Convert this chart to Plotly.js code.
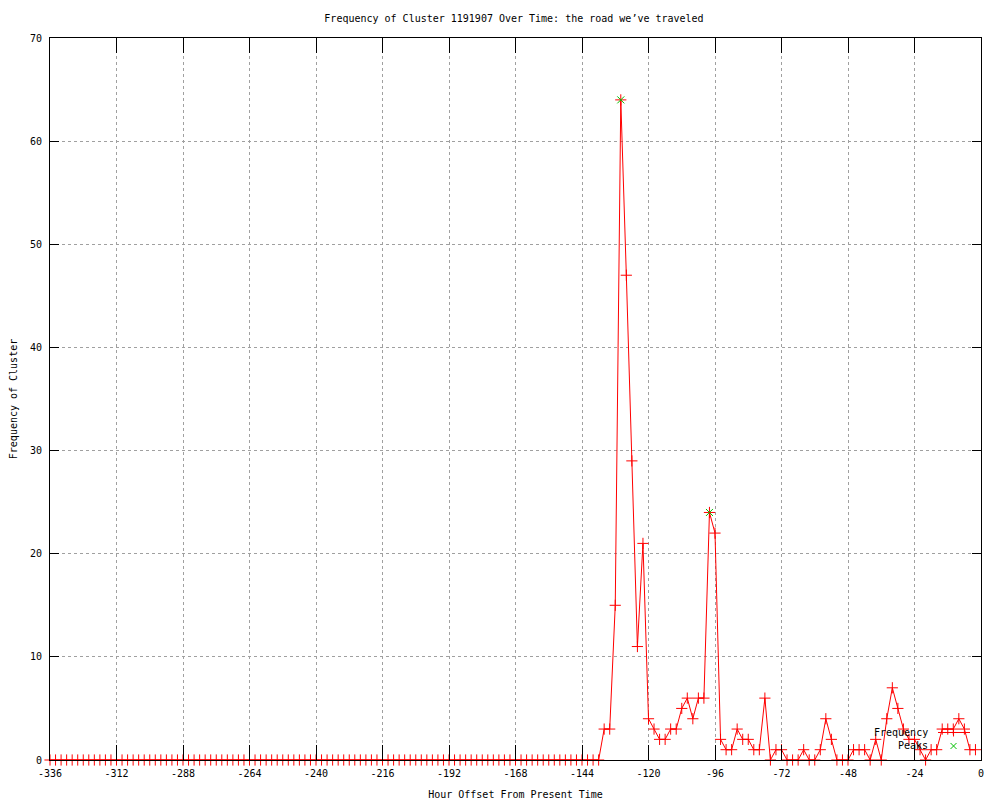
<!DOCTYPE html>
<html>
<head>
<meta charset="utf-8">
<script src="https://cdn.plot.ly/plotly-3.0.1.min.js"></script>
<style>html,body{margin:0;padding:0;background:#fff;}#chart{width:1000px;height:800px;}</style>
</head>
<body>
<div id="chart"></div>
<script>
// Hour offsets (every 2 hours)
const hours = [
-336,-334,-332,-330,-328,-326,-324,-322,-320,-318,-316,-314,-312,-310,-308,-306,-304,-302,-300,-298,
-296,-294,-292,-290,-288,-286,-284,-282,-280,-278,-276,-274,-272,-270,-268,-266,-264,-262,-260,-258,
-256,-254,-252,-250,-248,-246,-244,-242,-240,-238,-236,-234,-232,-230,-228,-226,-224,-222,-220,-218,
-216,-214,-212,-210,-208,-206,-204,-202,-200,-198,-196,-194,-192,-190,-188,-186,-184,-182,-180,-178,
-176,-174,-172,-170,-168,-166,-164,-162,-160,-158,-156,-154,-152,-150,-148,-146,-144,-142,-140,-138,
-136,-134,-132,-130,-128,-126,-124,-122,-120,-118,-116,-114,-112,-110,-108,-106,-104,-102,-100,-98,
-96,-94,-92,-90,-88,-86,-84,-82,-80,-78,-76,-74,-72,-70,-68,-66,-64,-62,-60,-58,
-56,-54,-52,-50,-48,-46,-44,-42,-40,-38,-36,-34,-32,-30,-28,-26,-24,-22,-20,-18,
-16,-14,-12,-10,-8,-6,-4,-2
];
// Frequency of cluster at each hour offset
const frequency = [
0,0,0,0,0,0,0,0,0,0,0,0,0,0,0,0,0,0,0,0,
0,0,0,0,0,0,0,0,0,0,0,0,0,0,0,0,0,0,0,0,
0,0,0,0,0,0,0,0,0,0,0,0,0,0,0,0,0,0,0,0,
0,0,0,0,0,0,0,0,0,0,0,0,0,0,0,0,0,0,0,0,
0,0,0,0,0,0,0,0,0,0,0,0,0,0,0,0,0,0,0,0,
3,3,15,64,47,29,11,21,4,3,2,2,3,3,5,6,4,6,6,24,
22,2,1,1,3,2,2,1,1,6,0,1,1,0,0,0,1,0,0,1,
4,2,0,0,0,1,1,1,0,2,0,4,7,5,3,2,2,1,0,1,
1,3,3,3,4,3,1,1
];
// Peaks
const peakHours = [-130, -98];
const peakValues = [64, 24];

const xTicks = [-336,-312,-288,-264,-240,-216,-192,-168,-144,-120,-96,-72,-48,-24,0];
const yTicks = [0,10,20,30,40,50,60,70];

const FONT = "DejaVu Sans Mono, Liberation Mono, monospace";

const traces = [
  {
    x: hours, y: frequency, name: 'Frequency', type: 'scatter', mode: 'lines+markers',
    line: {color: '#ff0000', width: 1},
    marker: {symbol: 'cross-thin-open', size: 8, color: '#ff0000', line: {color: '#ff0000', width: 1}},
    cliponaxis: false, showlegend: false
  },
  {
    x: peakHours, y: peakValues, name: 'Peaks', type: 'scatter', mode: 'markers',
    marker: {symbol: 'x-thin-open', size: 7, color: '#00c000', line: {color: '#00c000', width: 1}},
    cliponaxis: false, showlegend: false
  }
];

// legend anchor points (paper coordinates)
const lgTextX = 0.9452;
const lgFreqY = 0.0381, lgPeakY = 0.0194;
const lgSampleX0 = 0.9538, lgSampleX1 = 0.9882, lgMarkX = 0.9705;

const layout = {
  width: 1000, height: 800,
  margin: {l: 50, r: 19, t: 38, b: 40},
  paper_bgcolor: '#ffffff', plot_bgcolor: '#ffffff',
  font: {family: FONT, size: 10, color: '#000'},
  title: {text: 'Frequency of Cluster 1191907 Over Time: the road we’ve traveled',
          font: {family: FONT, size: 10, color: '#000'}, x: 0.514, xanchor: 'center', y: 0.977, yanchor: 'middle'},
  xaxis: {
    range: [-336, 0], tickvals: xTicks, ticktext: xTicks.map(String),
    showgrid: true, gridcolor: '#a0a0a0', griddash: 'dot', gridwidth: 1,
    zeroline: false, showline: true, linecolor: '#000', linewidth: 1, mirror: 'ticks',
    ticks: 'inside', ticklen: 15, tickcolor: '#000', tickwidth: 1,
    ticklabelstandoff: 4,
    tickfont: {family: FONT, size: 10, color: '#000'},
    title: {text: 'Hour Offset From Present Time', font: {family: FONT, size: 10, color: '#000'}, standoff: 12}
  },
  yaxis: {
    range: [0, 70], tickvals: yTicks, ticktext: yTicks.map(String),
    showgrid: true, gridcolor: '#a0a0a0', griddash: 'dot', gridwidth: 1,
    zeroline: false, showline: true, linecolor: '#000', linewidth: 1, mirror: 'ticks',
    ticks: 'inside', ticklen: 9, tickcolor: '#000', tickwidth: 1,
    ticklabelstandoff: 5,
    tickfont: {family: FONT, size: 10, color: '#000'},
    title: {text: 'Frequency of Cluster', font: {family: FONT, size: 10, color: '#000'}, standoff: 10}
  },
  annotations: [
    {xref: 'paper', yref: 'paper', x: lgTextX, y: lgFreqY, text: 'Frequency', showarrow: false,
     xanchor: 'right', yanchor: 'middle', font: {family: FONT, size: 10, color: '#000'}},
    {xref: 'paper', yref: 'paper', x: lgTextX, y: lgPeakY, text: 'Peaks', showarrow: false,
     xanchor: 'right', yanchor: 'middle', font: {family: FONT, size: 10, color: '#000'}}
  ],
  shapes: [
    {type: 'line', xref: 'paper', yref: 'paper', x0: lgSampleX0, x1: lgSampleX1, y0: lgFreqY, y1: lgFreqY,
     line: {color: '#ff0000', width: 1}},
    {type: 'line', xref: 'paper', yref: 'paper', xsizemode: 'pixel', ysizemode: 'pixel',
     xanchor: lgMarkX, yanchor: lgFreqY, x0: -4, x1: 4, y0: 0, y1: 0, line: {color: '#ff0000', width: 1}},
    {type: 'line', xref: 'paper', yref: 'paper', xsizemode: 'pixel', ysizemode: 'pixel',
     xanchor: lgMarkX, yanchor: lgFreqY, x0: 0, x1: 0, y0: -4, y1: 4, line: {color: '#ff0000', width: 1}},
    {type: 'line', xref: 'paper', yref: 'paper', xsizemode: 'pixel', ysizemode: 'pixel',
     xanchor: lgMarkX, yanchor: lgPeakY, x0: -3, x1: 3, y0: -3, y1: 3, line: {color: '#00c000', width: 1}},
    {type: 'line', xref: 'paper', yref: 'paper', xsizemode: 'pixel', ysizemode: 'pixel',
     xanchor: lgMarkX, yanchor: lgPeakY, x0: -3, x1: 3, y0: 3, y1: -3, line: {color: '#00c000', width: 1}}
  ],
  showlegend: false
};

Plotly.newPlot('chart', traces, layout, {displayModeBar: false, staticPlot: true});
</script>
</body>
</html>
